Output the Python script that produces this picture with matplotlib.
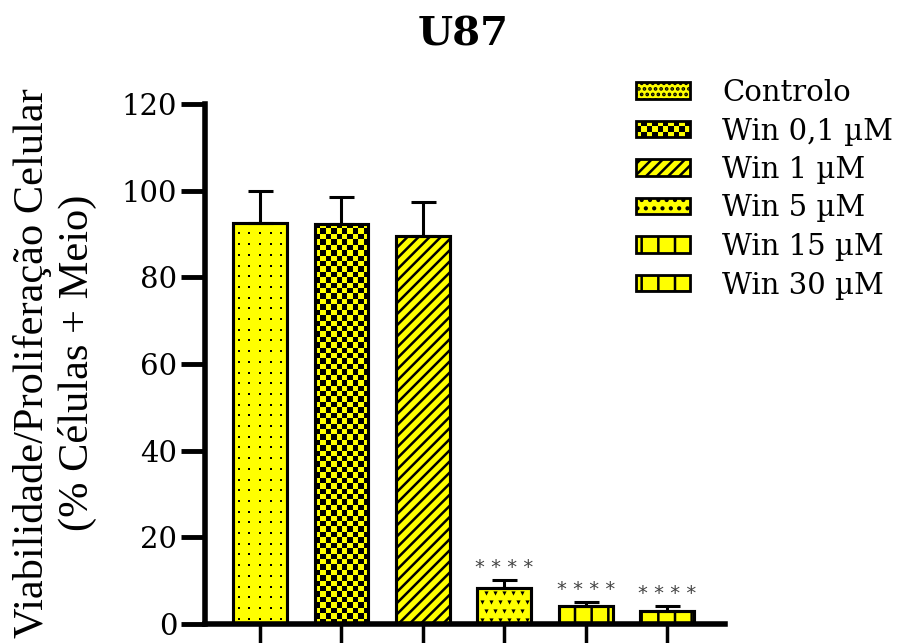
import matplotlib
import matplotlib.pyplot as plt
import numpy as np
from matplotlib.colors import ListedColormap
from matplotlib.legend_handler import HandlerBase
from matplotlib.patches import Patch, Rectangle

matplotlib.use("Agg")

# Data
groups = ["Controlo", "Win 0,1 µM", "Win 1 µM", "Win 5 µM", "Win 15 µM", "Win 30 µM"]
means = [92.6, 92.4, 89.5, 8.4, 4.2, 3.1]
errors = [7.4, 6.2, 7.8, 1.8, 0.9, 1.1]
stars = ["", "", "", "* * * *", "* * * *", "* * * *"]
hatches = [None, None, "///", None, "|", "+"]
legend_hatches = ["...", None, "///", "..", "|", "+"]

YELLOW = "#FFFF00"

plt.rcParams["hatch.linewidth"] = 1.8
plt.rcParams["font.family"] = ["DejaVu Serif"]

fig = plt.figure(figsize=(9.12, 6.43), dpi=100)
ax = fig.add_axes([205 / 912, 19 / 643, 520 / 912, 520 / 643])

x = np.arange(len(groups))
bars = ax.bar(x, means, width=0.66, color=YELLOW, edgecolor="black",
              linewidth=2.2, zorder=2)
for b, h in zip(bars, hatches):
    if h:
        b.set_hatch(h)

ax.errorbar(x, means, yerr=[np.zeros(len(means)), errors], fmt="none",
            ecolor="black", elinewidth=2.2, capsize=9, capthick=2.2, zorder=3)

ax.set_xlim(-0.676, 5.71)
ax.set_ylim(0, 120)
ax.set_yticks([0, 20, 40, 60, 80, 100, 120])
ax.set_xticks(x)
ax.set_xticklabels([])
ax.tick_params(axis="y", length=17, width=3.5, labelsize=21, pad=3)
ax.tick_params(axis="x", length=25, width=2.5)
for side in ["top", "right"]:
    ax.spines[side].set_visible(False)
for side in ["left", "bottom"]:
    ax.spines[side].set_linewidth(4)

fig.canvas.draw()


def bar_pixels(b):
    p0 = ax.transData.transform((b.get_x(), 0))
    p1 = ax.transData.transform((b.get_x() + b.get_width(), b.get_height()))
    return p0, p1


def fill_marks(b, step, marker, size, stagger=False):
    # small texture marks inside a bar, clipped to it
    p0, p1 = bar_pixels(b)
    xs, ys = [], []
    for r, py in enumerate(np.arange(p0[1] + step / 2, p1[1], step)):
        off = step / 2 if (stagger and r % 2) else 0
        for px in np.arange(p0[0] + step / 2 + off, p1[0], step):
            xs.append(px)
            ys.append(py)
    pts = ax.transData.inverted().transform(np.column_stack([xs, ys]))
    sc = ax.scatter(pts[:, 0], pts[:, 1], marker=marker, s=size, c="black",
                    linewidths=0, zorder=2.5)
    sc.set_clip_path(b)


fill_marks(bars[0], 10.7, "s", 4)
fill_marks(bars[3], 9, "v", 9, stagger=True)

# checkerboard fill for Win 0,1 uM, clipped to its bar
b = bars[1]
p0, p1 = bar_pixels(b)
cell = 5.4
ncol = int(round((p1[0] - p0[0]) / cell))
nrow = int(round((p1[1] - p0[1]) / cell))
board = np.add.outer(np.arange(nrow), np.arange(ncol)) % 2
im = ax.imshow(board, extent=(b.get_x(), b.get_x() + b.get_width(), 0, b.get_height()),
               aspect="auto", cmap=ListedColormap([YELLOW, "black"]),
               interpolation="nearest", zorder=2.4, origin="lower")
im.set_clip_path(b)

# redraw outlines above the textures
ax.bar(x, means, width=0.66, facecolor="none", edgecolor="black",
       linewidth=2.2, zorder=2.6)
ax.set_xlim(-0.676, 5.71)
ax.set_ylim(0, 120)

for xi, m, e, s in zip(x, means, errors, stars):
    if s:
        ax.annotate(s, (xi, m + e), xytext=(0, 2), textcoords="offset points",
                    ha="center", va="bottom", fontsize=14, color="#444444",
                    fontfamily="DejaVu Sans")

ax.set_ylabel("Viabilidade/Proliferação Celular\n(% Células + Meio)",
              fontsize=30.5, fontfamily="Liberation Serif", linespacing=1.2)
ax.yaxis.set_label_coords(-0.208, 0.502)
fig.text(463 / 912, 1 - 35 / 643, "U87", ha="center", va="center",
         fontsize=29, fontweight="bold")


class CheckerHandler(HandlerBase):
    def create_artists(self, legend, orig_handle, xdescent, ydescent,
                       width, height, fontsize, trans):
        arts = [Rectangle((-xdescent, -ydescent), width, height,
                          facecolor=YELLOW, edgecolor="none", transform=trans)]
        n = 10
        w = width / n
        for i in range(n):
            for j in range(3):
                if (i + j) % 2:
                    arts.append(Rectangle((-xdescent + i * w, -ydescent + j * height / 3),
                                          w, height / 3, facecolor="black",
                                          edgecolor="none", transform=trans))
        arts.append(Rectangle((-xdescent, -ydescent), width, height,
                              facecolor="none", edgecolor="black", lw=2,
                              transform=trans))
        return arts


handles = []
for i, g in enumerate(groups):
    handles.append(Patch(facecolor=YELLOW, edgecolor="black", linewidth=2,
                         hatch=legend_hatches[i]))
leg = fig.legend(handles, groups, loc="upper left",
                 bbox_to_anchor=(636 / 912, 1 - 79 / 643), frameon=False,
                 fontsize=21, handlelength=1.85, handleheight=0.5,
                 handletextpad=1.1, labelspacing=0.36, borderpad=0,
                 borderaxespad=0, handler_map={handles[1]: CheckerHandler()})

fig.savefig("out.png", dpi=100)
